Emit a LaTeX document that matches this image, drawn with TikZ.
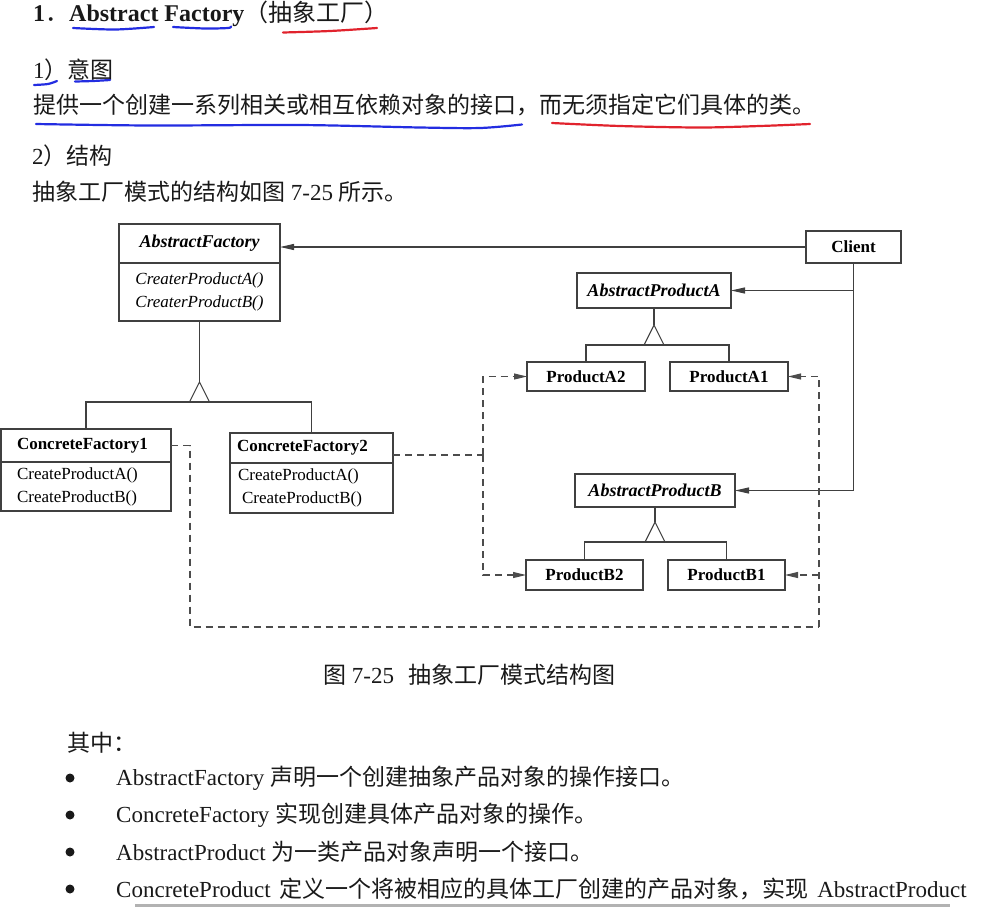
\documentclass[tikz,border=0pt]{standalone}
\usepackage{fontspec}
\setmainfont{Liberation Serif}
\newfontfamily\zh{Noto Sans CJK SC}
\usepackage{tikz}
\usetikzlibrary{positioning,arrows.meta,calc}
\definecolor{penblue}{RGB}{35,45,225}
\definecolor{penred}{RGB}{225,35,45}
\newcommand{\bodyfont}{\fontsize{23}{28}\selectfont}
\newcommand{\titlefont}{\fontsize{24}{29}\selectfont}
\newcommand{\diafont}{\fontsize{17}{23}\selectfont}
\newcommand{\absfont}{\fontsize{18}{23}\selectfont\bfseries\itshape}
% open triangle between a parent and its two subclasses
\newcommand{\inherit}[4]{%
\draw[gen] (#1.south) -- ++(0,#2) coordinate (tip);
\draw[gen] (tip) -- ++(-10,20) -- ++(20,0) -- cycle;
\draw[gen] (#3.north) |- ($(tip)+(0,20)$) -| (#4.north);
}
\tikzset{
  cls/.style={draw=black!75, line width=1.1pt, inner sep=0pt, outer sep=0pt, font=\diafont},
  txt/.style={anchor=west, inner sep=0pt, font=\bodyfont, text=black!90},
  gen/.style={draw=black!75, line width=1.1pt},
  assoc/.style={gen, -{Triangle[length=14pt,width=6pt]}},
  dashln/.style={draw=black!70, line width=1.1pt, dash pattern=on 7pt off 5pt},
  dep/.style={dashln, -{Triangle[length=13pt,width=6pt]}},
  pen/.style={line width=2.2pt, line cap=round, line join=round},
}
\begin{document}
\begin{tikzpicture}[x=1pt,y=-1pt]
\useasboundingbox (0,0) rectangle (994,906);

% text above the figure
\node[txt, font=\titlefont\bfseries] (title) at (33,14) {1{\zh\mdseries ．}Abstract\hspace{6pt}Factory{\zh\mdseries （抽象工厂）}};
\node[txt] (intent) at (33,70) {1{\zh ）意图}};
\node[txt] (intentText) at (33,105) {\zh 提供一个创建一系列相关或相互依赖对象的接口，而无须指定它们具体的类。};
\node[txt] (struct) at (32,156) {2{\zh ）结构}};
\node[txt] (structText) at (32,192) {{\zh 抽象工厂模式的结构如图} 7-25 {\zh 所示。}};

% pen marks
\draw[pen, penblue] plot[smooth] coordinates {(73,28) (115,29.5) (154,27)};
\draw[pen, penblue] plot[smooth] coordinates {(173,27) (205,28.5) (228,28) (231,26.5)};
\draw[pen, penred] plot[smooth] coordinates {(283,32.5) (330,31) (377,28)};
\draw[pen, penblue] plot[smooth] coordinates {(34,85) (48,84) (57,81)};
\draw[pen, penblue] plot[smooth] coordinates {(75,81.5) (93,81) (110,80)};
\draw[pen, penblue] plot[smooth] coordinates {(36,124) (150,125.5) (300,125) (420,127.5) (480,128) (522,124.5)};
\draw[pen, penred] plot[smooth] coordinates {(552,123) (620,126) (700,127.5) (760,126) (810,124)};

% factories
\node[cls, minimum width=161pt, minimum height=39pt, font=\absfont] (af) at (199.5,243.5) {AbstractFactory};
\node[cls, below=0pt of af, minimum width=161pt, minimum height=58pt, align=center, font=\diafont\itshape] (afops) {CreaterProductA()\\CreaterProductB()};

\node[cls, minimum height=33pt, text width=138pt, inner xsep=16pt, align=left, font=\diafont\bfseries] (cf1) at (86,445.5) {ConcreteFactory1};
\node[cls, below=0pt of cf1, minimum height=49pt, text width=138pt, inner xsep=16pt, align=left] (cf1ops) {CreateProductA()\\CreateProductB()};

\node[cls, minimum height=30pt, text width=149pt, inner xsep=7pt, align=left, font=\diafont\bfseries] (cf2) at (311.5,448) {ConcreteFactory2};
\node[cls, below=0pt of cf2, minimum height=50pt, text width=149pt, inner xsep=7pt, align=left] (cf2ops) {\hspace{1pt}CreateProductA()\\\hspace{5pt}CreateProductB()};

% client and products
\node[cls, minimum width=95pt, minimum height=32pt, font=\diafont\bfseries] (client) at (853.5,247) {Client};
\node[cls, minimum width=154pt, minimum height=35pt, font=\absfont] (apa) at (654,290.5) {AbstractProductA};
\node[cls, minimum width=118pt, minimum height=29pt, font=\diafont\bfseries] (pa2) at (586,376.5) {ProductA2};
\node[cls, minimum width=118pt, minimum height=29pt, font=\diafont\bfseries] (pa1) at (729,376.5) {ProductA1};
\node[cls, minimum width=160pt, minimum height=33pt, font=\absfont] (apb) at (655,490.5) {AbstractProductB};
\node[cls, minimum width=117pt, minimum height=30pt, font=\diafont\bfseries] (pb2) at (584.5,575) {ProductB2};
\node[cls, minimum width=117pt, minimum height=30pt, font=\diafont\bfseries] (pb1) at (726.5,575) {ProductB1};

% inheritance
\inherit{afops}{61}{cf1}{cf2}
\inherit{apa}{17}{pa2}{pa1}
\inherit{apb}{15}{pb2}{pb1}

% client uses
\draw[assoc] (client.west) -- (client.west -| af.east);
\draw[assoc] (client.south) |- (apa.east);
\draw[assoc] (client.south) |- (apb.east);

% creates
\coordinate (depL) at (483,455);
\draw[dashln] (cf2.east |- depL) -- (depL);
\draw[dep] (depL) |- (pa2.west);
\draw[dep] (depL) |- (pb2.west);
\coordinate (depB) at (190,627);
\coordinate (depR) at (819,627);
\draw[dashln] (cf1.east) -| (depB) -- (depR);
\draw[dep] (depR) |- (pa1.east);
\draw[dep] (depR |- pb1.east) -- (pb1.east);

\node[txt] (caption) at (323,675) {{\zh 图} 7-25\hspace{14pt}{\zh 抽象工厂模式结构图}};

% list below the figure
\node[txt] (where) at (67,743) {\zh 其中：};
\fill[black!90] (70,778) circle (4.5pt);
\fill[black!90] (70,815) circle (4.5pt);
\fill[black!90] (70,852) circle (4.5pt);
\fill[black!90] (70,889) circle (4.5pt);
\node[txt] (item1) at (116,778) {AbstractFactory {\zh 声明一个创建抽象产品对象的操作接口。}};
\node[txt] (item2) at (116,815) {ConcreteFactory {\zh 实现创建具体产品对象的操作。}};
\node[txt] (item3) at (116,852) {AbstractProduct {\zh 为一类产品对象声明一个接口。}};
\node[txt] (item4) at (116,889) {ConcreteProduct\hspace{3pt} {\zh 定义一个将被相应的具体工厂创建的产品对象，实现}\hspace{3pt} AbstractProduct};

\draw[black!30, line width=3pt] (135,905) -- (950,905);
\end{tikzpicture}
\end{document}
